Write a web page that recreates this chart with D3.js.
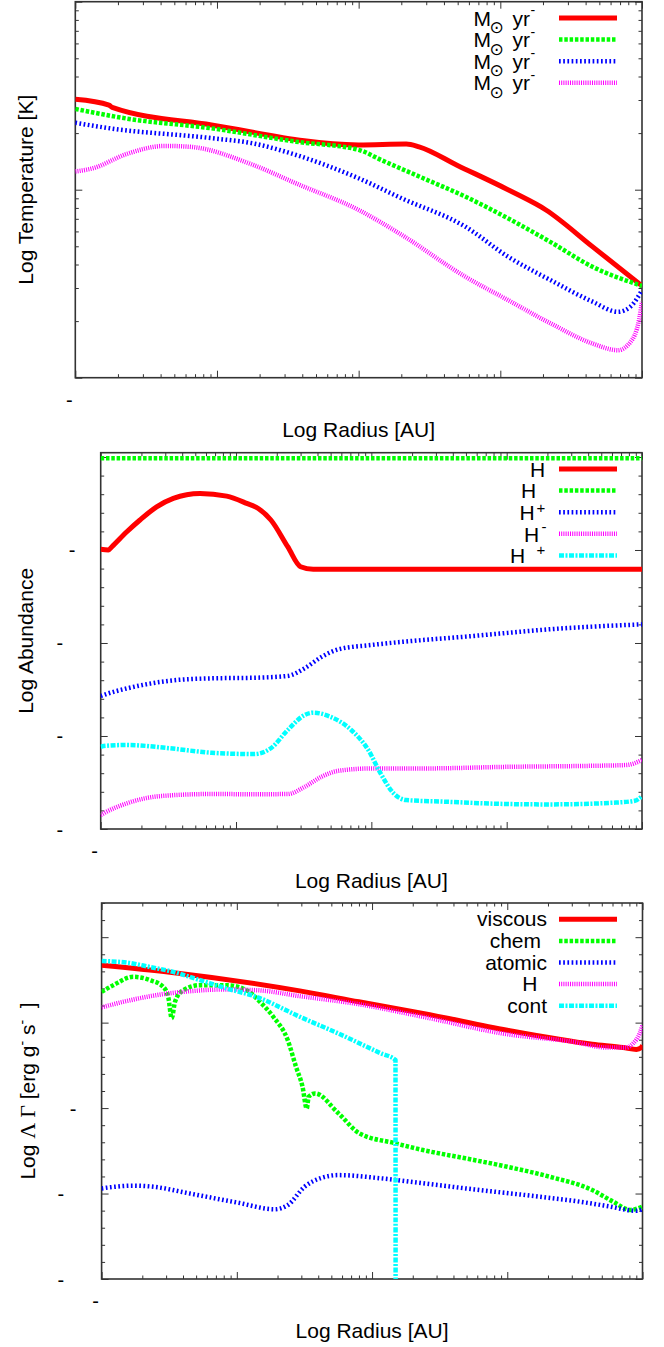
<!DOCTYPE html>
<html>
<head>
<meta charset="utf-8">
<script src="https://cdn.jsdelivr.net/npm/d3@7"></script>
<style>
  body { margin: 0; background: #fff; }
  text { font-family: "Liberation Sans", Arial, Helvetica, sans-serif; fill: #000; }
</style>
</head>
<body>
<script>
// ---------- tick exponents (the reference font drops digits, only the minus signs show) ----------
const radiusTickExp = [-1, 0, 1, 2, 3];
const tempTickExp = [1, 2, 3];
const abunTickExp = [-20, -15, -10, -5, 0];
const heatTickExp = [-15, -10, -5, 0, 5];

// ---------- top panel: temperature [K] vs radius [AU] ----------
const tempR1 = [0.1, 0.173, 0.182, 0.916, 10, 21.7, 26.7, 49.5, 121, 210, 447, 1000];
const tempT1 = [303, 282, 274, 221, 173, 175, 169, 135, 97.5, 78, 49.8, 30.8];
const tempR2 = [0.1, 0.231, 0.916, 3.62, 10, 14.4, 28.6, 56.8, 113, 225, 447, 1000];
const tempT2 = [269, 239, 212, 180, 163, 144, 115, 91.8, 70.5, 52.8, 38.9, 30.8];
const tempR3 = [0.1, 0.176, 0.916, 1.82, 3.62, 10, 20.2, 56.8, 113, 225, 447, 676, 830, 1000];
const tempT3 = [227, 212, 188, 176, 153, 115, 89.9, 63.5, 44.1, 33.1, 25.4, 22.4, 23.9, 29.2];
const tempR4 = [0.1, 0.133, 0.231, 0.43, 0.65, 1.82, 3.62, 10, 20.2, 56.8, 113, 225, 447, 676, 830, 953, 1000];
const tempT4 = [125, 130, 155, 171, 169, 135, 108, 78, 57.4, 34.4, 25.9, 19.5, 15.2, 14.0, 15.5, 20.3, 25.4];

// ---------- middle panel: abundances ----------
const abunR1 = [0.1, 0.114, 0.121, 0.156, 0.195, 0.259, 0.344, 0.542, 0.853, 1.2, 1.46, 1.81, 2.41, 3.0, 3.72, 1000];
const abunA1 = [1.1e-5, 1.0e-5, 1.5e-5, 9.5e-5, 4.1e-4, 2.1e-3, 6.0e-3, 1.1e-2, 7.9e-3, 3.2e-3, 1.7e-3, 4.1e-4, 1.5e-5, 1.26e-6, 9.1e-7, 9.1e-7];
const abunR2 = [0.1, 1000];
const abunA2 = [0.85, 0.85];
const abunR3 = [0.1, 0.105, 0.156, 0.321, 0.659, 1.36, 2.41, 3.22, 4.29, 5.73, 10, 24.2, 49.7, 102, 210, 431, 1000];
const abunA3 = [1.4e-13, 1.6e-13, 3.6e-13, 9.3e-13, 1.26e-12, 1.35e-12, 1.7e-12, 4.4e-12, 1.8e-11, 4.6e-11, 7.8e-11, 1.45e-10, 2.2e-10, 3.5e-10, 5.5e-10, 7.6e-10, 1.0e-9];
const abunR4 = [0.1, 0.105, 0.156, 0.278, 0.659, 1.36, 2.41, 3.22, 4.29, 5.73, 10, 24.2, 102, 431, 766, 1000];
const abunA4 = [5.6e-20, 6.9e-20, 2.4e-19, 5.9e-19, 7.6e-19, 7.4e-19, 7.6e-19, 1.86e-18, 6.5e-18, 1.35e-17, 1.8e-17, 1.8e-17, 2.2e-17, 2.5e-17, 2.75e-17, 5.1e-17];
const abunR5 = [0.1, 0.105, 0.156, 0.321, 0.659, 1.36, 1.81, 2.41, 3.22, 3.72, 4.95, 7.1, 9.48, 11.7, 14.6, 18.1, 34.6, 102, 210, 617, 885, 1000];
const abunA5 = [2.6e-16, 2.9e-16, 3.3e-16, 2.2e-16, 1.26e-16, 1.07e-16, 2.2e-16, 2.1e-15, 1.35e-14, 1.8e-14, 1.1e-14, 2.1e-15, 1.8e-16, 9.8e-18, 8.3e-19, 3.6e-19, 2.95e-19, 2.2e-19, 2.1e-19, 2.6e-19, 3.3e-19, 5.9e-19];

// ---------- bottom panel: heating / cooling rates [erg g^-1 s^-1] ----------
const heatR1 = [0.1, 0.32, 2.92, 7.98, 23.8, 100, 425, 718, 902, 982, 1000];
const heatL1 = [2300, 900, 72, 16.6, 3.5, 0.36, 0.055, 0.035, 0.027, 0.035, 0.048];
const heatR2 = [0.1, 0.122, 0.171, 0.228, 0.286, 0.311, 0.33, 0.349, 0.402, 0.533, 0.841, 1.18, 1.48, 1.86, 2.38, 2.74, 3.06, 3.29, 3.4, 3.79, 5.65, 8.09, 14.9, 23.8, 49, 100, 207, 425, 608, 813, 1000];
const heatL2 = [63, 155, 479, 309, 123, 32, 1.8, 16.6, 79, 155, 155, 79, 16.6, 2.2, 0.095, 2.6e-3, 1.8e-4, 9.5e-6, 4.6e-5, 7.2e-5, 4.9e-6, 3.3e-7, 8.7e-8, 3.5e-8, 1.15e-8, 3.7e-9, 9.5e-10, 1.6e-10, 3.3e-11, 1.1e-11, 1.7e-11];
const heatR3 = [0.1, 0.171, 0.241, 0.45, 1.02, 1.91, 2.38, 3.17, 4.23, 5.65, 11.6, 23.8, 49, 174, 306, 541, 902, 1000];
const heatL3 = [2.0e-10, 2.9e-10, 2.5e-10, 1.0e-10, 2.9e-11, 1.2e-11, 2.1e-11, 2.5e-10, 8.3e-10, 1.2e-9, 7.8e-10, 4.0e-10, 2.0e-10, 6.5e-11, 3.8e-11, 1.9e-11, 9.8e-12, 1.2e-11];
const heatR4 = [0.1, 0.145, 0.255, 0.45, 0.792, 1.4, 2.92, 7.98, 23.8, 100, 306, 541, 760, 851, 953, 1000];
const heatL4 = [7.8, 16.6, 40.7, 69, 87, 79, 35.5, 12.0, 2.2, 0.21, 0.076, 0.035, 0.035, 0.06, 0.23, 0.71];
const heatR5 = [0.1, 0.153, 0.228, 0.339, 0.533, 0.841, 1.4, 2.92, 5.65, 11.6, 14.9, 14.95];
const heatL5 = [4000, 3300, 1800, 933, 309, 100, 32, 2.2, 0.23, 0.016, 0.0065, 1e-30];

// ---------- series styles (gnuplot default line types) ----------
const lineColors = ["#ff0000", "#00ff00", "#0000ff", "#ff00ff", "#00ffff"];
const lineDashes = [null, "3.5,1.8", "1.7,2.5", "1,1.2", "5,1.5,2,1.5"];
const lineWidths = [5, 4.5, 4.5, 4.5, 4.5];

const svg = d3.select("body").append("svg")
  .attr("width", 664)
  .attr("height", 1347)
  .style("display", "block")
  .style("background", "#fff");

const zip = (xs, ys) => xs.map((v, i) => [v, ys[i]]);

function drawPanel(p) {
  const x = d3.scaleLog().domain([0.1, 1000]).range([p.left, p.right]);
  const y = d3.scaleLog().domain(p.yDomain).range([p.bottom, p.top]);
  const g = svg.append("g");

  g.append("clipPath").attr("id", "clip" + p.id)
    .append("rect")
    .attr("x", p.left).attr("y", p.top)
    .attr("width", p.right - p.left).attr("height", p.bottom - p.top);

  // tick values: majors from the exponent lists, log minors in between
  const xMajor = radiusTickExp.map(e => Math.pow(10, e));
  const xMinor = [];
  radiusTickExp.slice(0, -1).forEach(e => d3.range(2, 10).forEach(k => xMinor.push(k * Math.pow(10, e))));

  const yMajor = p.yTickExp.map(e => Math.pow(10, e));
  let yMinor = [];
  if (p.yDecadeMinor) {
    const lo = Math.round(Math.log10(p.yDomain[0])), hi = Math.floor(Math.log10(p.yDomain[1]));
    yMinor = d3.range(lo, hi + 1).filter(e => !p.yTickExp.includes(e)).map(e => Math.pow(10, e));
  } else {
    p.yTickExp.slice(0, -1).forEach(e => d3.range(2, 10).forEach(k => yMinor.push(k * Math.pow(10, e))));
  }

  const tickStyle = sel => {
    sel.select(".domain").remove();
    sel.selectAll("text").remove();
    sel.selectAll("line").attr("stroke", "#333").attr("stroke-width", 1);
  };
  const addAxis = (axis, tr) => g.append("g").attr("transform", tr).call(axis).call(tickStyle);

  [[xMajor, 7], [xMinor, 3.5]].forEach(([vals, len]) => {
    addAxis(d3.axisBottom(x).tickValues(vals).tickSize(-len), `translate(0,${p.bottom})`);
    addAxis(d3.axisTop(x).tickValues(vals).tickSize(-len), `translate(0,${p.top})`);
  });
  [[yMajor, 7], [yMinor, 3.5]].forEach(([vals, len]) => {
    addAxis(d3.axisLeft(y).tickValues(vals).tickSize(-len), `translate(${p.left},0)`);
    addAxis(d3.axisRight(y).tickValues(vals).tickSize(-len), `translate(${p.right},0)`);
  });

  // frame
  g.append("rect")
    .attr("x", p.left).attr("y", p.top)
    .attr("width", p.right - p.left).attr("height", p.bottom - p.top)
    .attr("fill", "none").attr("stroke", "#333").attr("stroke-width", 1.6);

  // tick labels: only the minus signs of negative exponents are visible
  radiusTickExp.filter(e => e < 0).forEach(e => {
    g.append("text")
      .attr("x", x(Math.pow(10, e)) - 6)
      .attr("y", p.bottom + 29)
      .attr("text-anchor", "middle")
      .style("font-size", "20px")
      .text("-");
  });
  p.yTickExp.filter(e => e < 0).forEach(e => {
    const digits = String(-e).length;
    g.append("text")
      .attr("x", p.left - 28.5 - 12.3 * (digits - 1))
      .attr("y", y(Math.pow(10, e)) + 7.5)
      .attr("text-anchor", "middle")
      .style("font-size", "20px")
      .text("-");
  });

  // curves
  const line = d3.line()
    .x(d => x(d[0]))
    .y(d => y(d[1]))
    .curve(d3.curveMonotoneX);

  const plot = g.append("g").attr("clip-path", `url(#clip${p.id})`);
  p.series.forEach((s, i) => {
    plot.append("path")
      .datum(s)
      .attr("d", line)
      .attr("fill", "none")
      .attr("stroke", lineColors[i])
      .attr("stroke-width", lineWidths[i])
      .attr("stroke-dasharray", lineDashes[i])
      .attr("stroke-linejoin", "round");
  });

  // legend
  p.legend.forEach((lab, i) => {
    const ly = p.top + 16.3 + i * 21.6;
    g.append("path")
      .attr("d", `M559,${ly}L617,${ly + 0.01}`)
      .attr("fill", "none")
      .attr("stroke", lineColors[i])
      .attr("stroke-width", lineWidths[i])
      .attr("stroke-dasharray", lineDashes[i]);
    lab.forEach(pc => {
      const t = g.append("text")
        .attr("x", pc.x)
        .attr("y", ly + pc.dy)
        .style("font-size", (pc.size || 21) + "px")
        .text(pc.t);
      if (pc.anchor) t.attr("text-anchor", pc.anchor);
      if (pc.font) t.style("font-family", pc.font);
    });
  });

  // axis titles
  g.append("text")
    .attr("x", (p.left + p.right) / 2)
    .attr("y", p.bottom + 59)
    .attr("text-anchor", "middle")
    .style("font-size", "21px")
    .text("Log Radius [AU]");

  const yt = g.append("text")
    .attr("transform", `translate(${p.yTitleX},${(p.top + p.bottom) / 2}) rotate(-90)`)
    .attr("text-anchor", "middle")
    .style("font-size", "21px");
  p.yTitle.forEach(pc => {
    const ts = yt.append("tspan").text(pc.t);
    if (pc.sup) ts.attr("dy", -8).style("font-size", "14px");
    if (pc.down) ts.attr("dy", 8);
    if (pc.serif) ts.style("font-family", "'Liberation Serif', 'DejaVu Serif', serif").style("font-size", "22px");
  });
}

// legend label pieces (visible glyphs only)
const massRate = [
  { t: "M", x: 473.5, dy: 7.5 },
  { t: "\u2299", x: 489.5, dy: 15, size: 17, font: "DejaVu Sans" },
  { t: "yr", x: 512.5, dy: 7.5 },
  { t: "-", x: 530.5, dy: -3, size: 14 }
];

drawPanel({
  id: 1, left: 75.3, right: 642, top: 1.7, bottom: 377.7,
  yDomain: [10, 1000], yTickExp: tempTickExp, yDecadeMinor: false,
  series: [zip(tempR1, tempT1), zip(tempR2, tempT2), zip(tempR3, tempT3), zip(tempR4, tempT4)],
  legend: [massRate, massRate, massRate, massRate],
  yTitleX: 33,
  yTitle: [{ t: "Log Temperature [K]" }]
});

drawPanel({
  id: 2, left: 100.7, right: 642, top: 452.7, bottom: 829,
  yDomain: [1e-20, 1.7], yTickExp: abunTickExp, yDecadeMinor: true,
  series: [zip(abunR1, abunA1), zip(abunR2, abunA2), zip(abunR3, abunA3), zip(abunR4, abunA4), zip(abunR5, abunA5)],
  legend: [
    [{ t: "H", x: 530, dy: 7.7 }],
    [{ t: "H", x: 521, dy: 7.7 }],
    [{ t: "H", x: 519.5, dy: 7.7 }, { t: "+", x: 536.5, dy: 0.8, size: 15 }],
    [{ t: "H", x: 524, dy: 7.7 }, { t: "-", x: 541.5, dy: -1.4, size: 15 }],
    [{ t: "H", x: 510, dy: 7.7 }, { t: "+", x: 536.5, dy: -0.7, size: 15 }]
  ],
  yTitleX: 33,
  yTitle: [{ t: "Log Abundance" }]
});

drawPanel({
  id: 3, left: 101.6, right: 642.5, top: 903, bottom: 1279,
  yDomain: [1e-15, 1e7], yTickExp: heatTickExp, yDecadeMinor: true,
  series: [zip(heatR1, heatL1), zip(heatR2, heatL2), zip(heatR3, heatL3), zip(heatR4, heatL4), zip(heatR5, heatL5)],
  legend: [
    [{ t: "viscous", x: 547, dy: 7, anchor: "end" }],
    [{ t: "chem", x: 541, dy: 7, anchor: "end" }],
    [{ t: "atomic", x: 547, dy: 7, anchor: "end" }],
    [{ t: "H", x: 537.5, dy: 7, anchor: "end" }],
    [{ t: "cont", x: 547, dy: 7, anchor: "end" }]
  ],
  yTitleX: 35,
  yTitle: [
    { t: "Log " },
    { t: "\u039B \u0393", serif: true },
    { t: " [erg g" },
    { t: "-", sup: true },
    { t: "\u00A0s", down: true },
    { t: "-", sup: true },
    { t: "\u00A0\u00A0]", down: true }
  ]
});
</script>
</body>
</html>
